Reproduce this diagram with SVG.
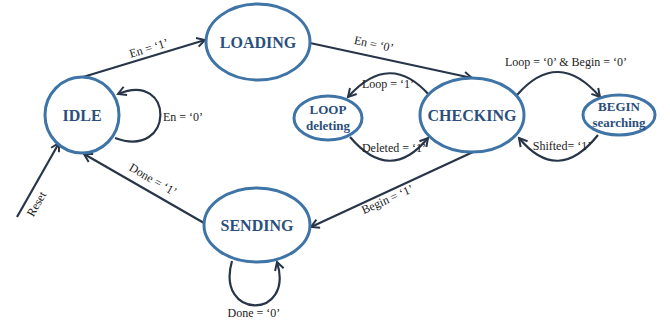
<svg xmlns="http://www.w3.org/2000/svg" width="670" height="321" viewBox="0 0 670 321">
  <style>
    .state { fill: #ffffff; stroke: #3f74a6; stroke-width: 3; }
    .name { font-family: 'Liberation Serif', 'DejaVu Serif', 'Times New Roman', serif; font-weight: bold; fill: #2b4f7c; text-anchor: middle; }
    .big { font-size: 16px; }
    .small { font-size: 13px; }
    .edge { fill: none; stroke: #283548; stroke-width: 2.2; marker-end: url(#arrow); }
    .lbl { font-family: 'Liberation Serif', 'DejaVu Serif', 'Times New Roman', serif; font-size: 12px; fill: #222222; text-anchor: middle; }
  </style>
  <defs>
    <marker id="arrow" markerUnits="userSpaceOnUse" markerWidth="12" markerHeight="12" refX="10" refY="6" orient="auto">
      <path d="M2,1.5 L10,6 L2,10.5" fill="none" stroke="#283548" stroke-width="2" stroke-linejoin="miter"/>
    </marker>
  </defs>

  <rect width="670" height="321" fill="#ffffff"/>

  <!-- transitions -->
  <g id="connectors">
    <line class="edge" x1="83" y1="77" x2="205" y2="40"/>
    <path class="edge" d="M115,138 C175,160 175,70 118,94"/>
    <line class="edge" x1="17" y1="217" x2="59" y2="143"/>
    <line class="edge" x1="204" y1="223" x2="84" y2="154"/>
    <line class="edge" x1="310" y1="43" x2="472" y2="78"/>
    <path class="edge" d="M430,96 Q390,50 348,97"/>
    <path class="edge" d="M350,137 Q390,184 428,138"/>
    <path class="edge" d="M517,95 Q558,48 600,97"/>
    <path class="edge" d="M598,135 Q558,185 519,138"/>
    <line class="edge" x1="473" y1="152" x2="311" y2="227"/>
    <path class="edge" d="M232,261 C215,320 295,320 277,262"/>

    <text class="lbl" transform="translate(150,52) rotate(-17)">En = ‘1’</text>
    <text class="lbl" x="183" y="121">En = ‘0’</text>
    <text class="lbl" transform="translate(40,206) rotate(-60)">Reset</text>
    <text class="lbl" transform="translate(151,183) rotate(30)">Done = ‘1’</text>
    <text class="lbl" transform="translate(373,48) rotate(12)">En = ‘0’</text>
    <text class="lbl" x="388" y="88">Loop = ‘1’</text>
    <text class="lbl" x="394" y="152">Deleted = ‘1’</text>
    <text class="lbl" x="566" y="66">Loop = ‘0’ &amp; Begin = ‘0’</text>
    <text class="lbl" x="562" y="150">Shifted= ‘1’</text>
    <text class="lbl" transform="translate(389,203) rotate(-24)">Begin = ‘1’</text>
    <text class="lbl" x="254" y="317">Done = ‘0’</text>
  </g>

  <g id="idle">
    <ellipse class="state" cx="82" cy="115" rx="37" ry="38"/>
    <text class="name big" x="82" y="121">IDLE</text>
  </g>
  <g id="loading">
    <ellipse class="state" cx="258" cy="42" rx="52" ry="38"/>
    <text class="name big" x="258" y="48">LOADING</text>
  </g>
  <g id="checking">
    <ellipse class="state" cx="472" cy="115" rx="52" ry="37"/>
    <text class="name big" x="472" y="121">CHECKING</text>
  </g>
  <g id="loop-deleting">
    <ellipse class="state" cx="328" cy="118" rx="34" ry="22"/>
    <text class="name small" x="328" y="114">LOOP</text>
    <text class="name small" x="328" y="130">deleting</text>
  </g>
  <g id="begin-searching">
    <ellipse class="state" cx="619" cy="115" rx="36" ry="20"/>
    <text class="name small" x="619" y="111">BEGIN</text>
    <text class="name small" x="619" y="127">searching</text>
  </g>
  <g id="sending">
    <ellipse class="state" cx="257" cy="225" rx="53" ry="37"/>
    <text class="name big" x="257" y="231">SENDING</text>
  </g>
</svg>
